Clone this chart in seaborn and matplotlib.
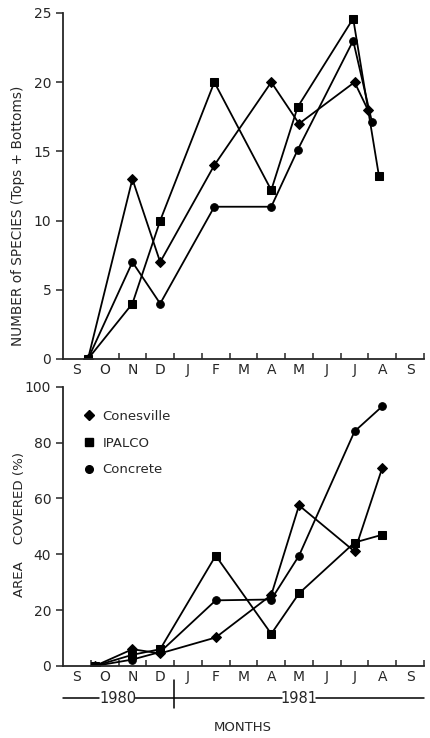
import pandas as pd
import matplotlib.pyplot as plt
import matplotlib.transforms as mtransforms
from matplotlib.lines import Line2D
import seaborn as sns

# -------------------------------
# DATA (x = months since 1 Sep 1980)
# -------------------------------

sites = ["Conesville", "IPALCO", "Concrete"]
site_markers = {"Conesville": "D", "IPALCO": "s", "Concrete": "o"}

# number of species (tops + bottoms)
species_x = {
    "Conesville": [0.9, 2.5, 3.5, 5.45, 7.5, 8.5, 10.5, 10.98],
    "IPALCO":     [0.9, 2.5, 3.5, 5.45, 7.5, 8.45, 10.45, 11.38],
    "Concrete":   [0.9, 2.5, 3.5, 5.45, 7.5, 8.45, 10.45, 11.13],
}
species_y = {
    "Conesville": [0, 13, 7, 14, 20, 17, 20, 18],
    "IPALCO":     [0, 4, 10, 20, 12.2, 18.2, 24.6, 13.2],
    "Concrete":   [0, 7, 4, 11, 11, 15.1, 23, 17.1],
}

# area covered (%)
area_x = [1.15, 2.5, 3.5, 5.5, 7.5, 8.5, 10.5, 11.5]
area_y = {
    "Conesville": [0, 6, 4.5, 10.2, 25.4, 57.5, 41, 71],
    "IPALCO":     [0, 4, 6, 39.5, 11.5, 26, 44.2, 47],
    "Concrete":   [0, 2.3, 5, 23.5, 23.8, 39.5, 84, 93],
}

month_labels = ["S", "O", "N", "D", "J", "F", "M", "A", "M", "J", "J", "A", "S"]

rows = []
for s in sites:
    for x, y in zip(species_x[s], species_y[s]):
        rows.append({"site": s, "month": x, "value": y, "panel": "species"})
    for x, y in zip(area_x, area_y[s]):
        rows.append({"site": s, "month": x, "value": y, "panel": "area"})
df = pd.DataFrame(rows)

# -------------------------------
# FIGURE
# -------------------------------

sns.set_style("ticks")
plt.rcParams["font.family"] = ["DejaVu Sans"]

fig = plt.figure(figsize=(4.3, 7.38), dpi=100)
ax1 = fig.add_axes([0.1465, 0.5136, 0.8395, 0.4688])
ax2 = fig.add_axes([0.1465, 0.0976, 0.8395, 0.3784])


def draw_panel(ax, data):
    sns.lineplot(data=data, x="month", y="value", style="site",
                 markers=site_markers, dashes=False, color="black",
                 linewidth=1.3, markersize=5.5, markeredgecolor="black",
                 estimator=None, legend=False, ax=ax)
    ax.set_xlim(0, 13)
    ax.set_xticks(range(1, 14))
    ax.set_xticklabels([])
    ax.set_xticks([i + 0.5 for i in range(13)], minor=True)
    ax.set_xticklabels(month_labels, minor=True, fontsize=10)
    ax.tick_params(axis="x", which="major", direction="in", length=4, width=1.1)
    ax.tick_params(axis="x", which="minor", length=0, pad=3)
    ax.tick_params(axis="y", direction="out", length=5, width=1.1, labelsize=10)
    ax.set_xlabel("")
    for sp in ["top", "right"]:
        ax.spines[sp].set_visible(False)
    for sp in ["left", "bottom"]:
        ax.spines[sp].set_linewidth(1.3)


draw_panel(ax1, df[df["panel"] == "species"])
ax1.set_ylim(0, 25)
ax1.set_yticks([0, 5, 10, 15, 20, 25])
ax1.set_ylabel("NUMBER of SPECIES (Tops + Bottoms)", fontsize=9.8)
ax1.yaxis.set_label_coords(-0.105, 0.413)

draw_panel(ax2, df[df["panel"] == "area"])
ax2.set_ylim(0, 100)
ax2.set_yticks([0, 20, 40, 60, 80, 100])
ax2.set_ylabel("AREA    COVERED (%)", fontsize=9.6)
ax2.yaxis.set_label_coords(-0.103, 0.508)

handles = [Line2D([], [], marker=site_markers[s], color="black",
                  linestyle="none", markersize=5.5) for s in sites]
ax2.legend(handles, sites, loc="upper left", bbox_to_anchor=(0.025, 0.96),
           frameon=False, fontsize=9.5, handlelength=0.8, handletextpad=0.6,
           labelspacing=1.05)

# year bar under the month axis
trans = mtransforms.blended_transform_factory(ax2.transData, ax2.transAxes)
ax2.plot([0, 1.3], [-0.1157, -0.1157], color="black", lw=1.1, transform=trans, clip_on=False)
ax2.plot([2.6, 7.9], [-0.1157, -0.1157], color="black", lw=1.1, transform=trans, clip_on=False)
ax2.plot([9.1, 13], [-0.1157, -0.1157], color="black", lw=1.1, transform=trans, clip_on=False)
ax2.plot([4, 4], [-0.05, -0.151], color="black", lw=1.1, transform=trans, clip_on=False)
ax2.text(1.97, -0.1157, "1980", ha="center", va="center", fontsize=10.5, transform=trans)
ax2.text(8.5, -0.1157, "1981", ha="center", va="center", fontsize=10.5, transform=trans)
ax2.text(6.47, -0.222, "MONTHS", ha="center", va="center", fontsize=9.5, transform=trans)

plt.savefig("out.png", dpi=100)
